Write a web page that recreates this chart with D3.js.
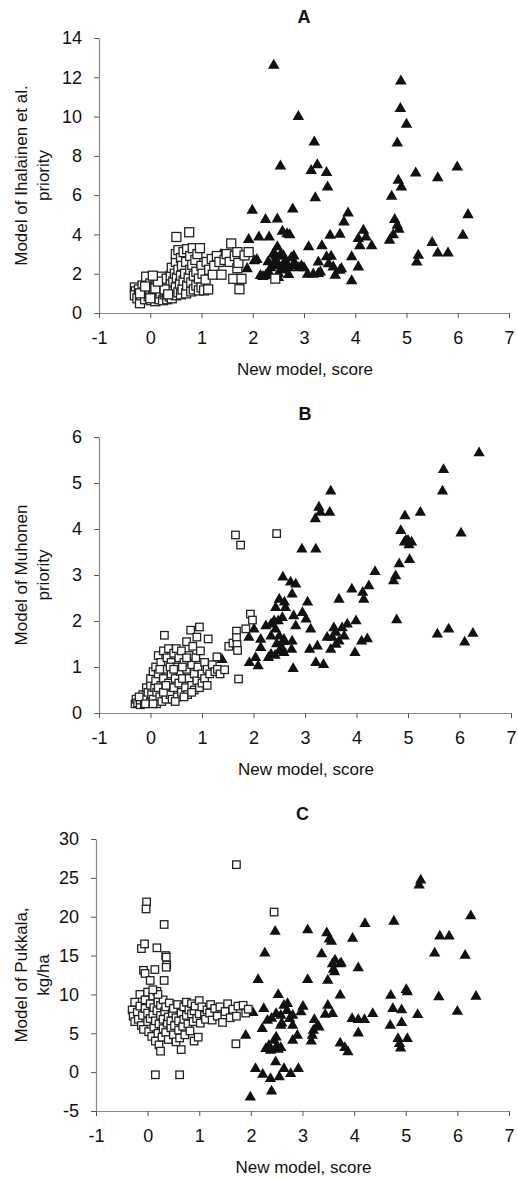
<!DOCTYPE html>
<html><head><meta charset="utf-8">
<script src="https://cdn.jsdelivr.net/npm/d3@7"></script>
<style>body{margin:0;background:#fff}text{font-family:"Liberation Sans",Arial,sans-serif}</style>
</head><body>
<svg id="chart" width="518" height="1180"></svg>
<script>
const xTicks=[-1,0,1,2,3,4,5,6,7];
const aYTicks=[0,2,4,6,8,10,12,14];
const bYTicks=[0,1,2,3,4,5,6];
const cYTicks=[-5,0,5,10,15,20,25,30];
const xTitle="New model, score";
const aLabel=["Model of Ihalainen et al.","priority"];
const bLabel=["Model of Muhonen","priority"];
const cLabel=["Model of Pukkala,","kg/ha"];

const aTriangles=[[2.41,12.6],[4.89,11.8],[2.89,10.0],[4.88,10.4],[5.0,9.6],[4.82,8.65],[3.2,8.7],
[2.54,7.47],[3.14,7.25],[3.26,7.54],[3.44,7.14],[3.46,6.41],[3.22,5.86],[1.99,5.22],[2.78,5.29],[2.25,4.75],[2.48,4.78],[3.86,5.08],[3.78,4.63],[1.92,3.73],[2.12,3.86],[2.32,3.86],[2.58,4.15],[2.67,4.03],[2.72,3.98],[2.48,3.36],[1.38,2.97],[1.89,2.25],[2.03,2.65],[2.08,2.72],
[2.2,1.85],[2.3,2.0],[2.25,1.9],[2.35,2.3],[2.4,2.5],[2.45,2.7],[2.5,2.4],[2.55,2.2],[2.5,2.0],[2.6,2.9],[2.65,2.6],[2.7,2.3],[2.75,2.8],[2.8,2.5],[2.85,2.4],[2.9,2.3],[2.95,2.4],[3.0,2.3],[2.4,3.0],[2.45,2.9],[2.55,3.0],[2.6,2.2],[2.3,2.6],[2.15,1.9],[2.7,1.95],[2.35,1.9],[2.5,1.8],[2.6,2.5],[2.8,2.9],
[3.07,1.97],[3.18,1.97],[3.28,2.0],[3.32,2.08],[3.28,2.59],[3.09,3.36],[3.35,3.41],[3.51,3.95],[3.7,4.0],[3.44,2.85],[3.53,2.88],[3.48,2.5],[3.57,2.34],[3.61,1.92],[3.7,2.17],[3.73,2.25],[3.93,2.85],[3.93,1.63],[4.06,2.34],[4.06,3.78],[4.16,4.2],[4.09,3.41],[4.21,3.86],[4.32,3.41],[4.67,3.69],[4.74,3.98],[4.71,5.93],[4.77,4.75],[4.82,4.46],[4.85,4.25],[4.84,6.75],[4.9,6.41],[5.18,7.12],[5.2,2.59],[5.23,2.93],[5.5,3.58],[5.61,6.88],[5.61,3.05],[5.81,3.05],[5.99,7.42],[6.1,3.95],[6.2,5.0]];

const aSquares=[[-0.3,1.3],[-0.28,1.1],[-0.3,0.9],[-0.25,0.75],[-0.22,1.2],[-0.2,0.5],[-0.18,0.9],[-0.15,1.4],[-0.12,1.05],[-0.1,0.7],[-0.08,1.85],[-0.05,1.2],[-0.03,0.85],[0,1.5],[0,1.0],[0.02,0.65],[0.05,1.3],[0.05,0.8],[0.08,1.1],[0.1,1.7],[0.1,0.6],[0.12,1.4],[0.15,0.9],[0.15,1.2],[0.18,0.7],[0.2,1.55],[0.2,1.0],[0.22,1.85],[0.25,0.65],[0.25,1.3],[0.28,0.95],[0.3,1.05],[0.3,1.5],[0.32,1.75],[0.33,0.7],[0.35,1.2],[0.38,0.85],[0.4,1.9],[0.4,1.45],[0.42,2.3],[0.42,0.75],[0.45,1.1],[0.45,1.6],[0.48,2.0],[0.5,0.9],[0.5,1.3],[0.5,2.6],[0.5,3.0],[0.51,3.87],[0.52,1.8],[0.55,1.05],[0.55,2.2],[0.55,3.2],[0.58,1.5],[0.6,0.95],[0.6,2.8],[0.6,1.9],[0.62,2.4],[0.63,1.2],[0.65,3.1],[0.65,1.65],[0.68,2.0],[0.7,1.0],[0.7,2.6],[0.72,1.4],[0.72,3.25],[0.75,1.8],[0.76,4.11],[0.78,2.2],[0.78,2.9],[0.8,1.1],[0.8,1.55],[0.82,2.45],[0.83,3.3],[0.85,1.2],[0.85,1.9],[0.88,2.7],[0.9,1.4],[0.9,2.1],[0.92,3.0],[0.95,1.15],[0.95,1.75],[0.97,3.3],[1.0,2.4],[1.0,1.3],[1.02,2.0],[1.05,1.15],[1.08,1.7],[1.1,2.6],[1.13,1.2],[1.15,2.2],[1.2,2.75],[1.22,1.95],[1.25,2.4],[1.3,2.9],[1.35,2.6],[1.39,1.95],[1.45,2.7],[1.49,3.0],[1.55,2.6],[1.58,3.54],[1.62,1.74],[1.65,2.9],[1.7,3.1],[1.7,2.28],[1.72,2.55],[1.74,1.21],[1.78,1.74],[1.84,2.93],[1.92,3.1],[2.44,1.75],
[-0.2,1.0],[0,0.75],[0.1,1.25],[0.28,1.2],[0.35,0.95],[0.15,1.6],[-0.1,1.35],[0.05,1.9]];

const bTriangles=[[6.38,5.65],[5.69,5.29],[5.67,4.82],[3.5,4.82],[3.27,4.47],[3.3,4.36],[3.48,4.36],[3.2,4.22],[4.94,4.28],[5.24,4.36],[4.86,3.96],[6.03,3.91],[4.96,3.75],
[2.94,3.56],[3.21,3.56],[4.93,3.71],[5.0,3.75],[5.07,3.71],[5.02,3.65],[5.03,3.33],[4.83,3.24],[4.76,2.98],[4.72,2.87],[4.36,3.07],[4.24,2.76],[4.12,2.62],[4.14,2.47],[3.91,2.69],[3.66,2.47],[2.57,2.95],[2.72,2.84],[2.82,2.8],[2.75,2.58],[3.05,2.41],[2.95,2.18],[3.02,2.04],[2.5,2.47],[2.43,2.29],[2.6,2.41],[2.62,2.29],[2.56,2.07],[2.48,2.0],[2.78,2.11],[2.82,1.89],[3.99,2.0],[3.82,1.93],[3.72,1.85],[3.56,1.85],[3.6,1.75],[3.76,1.67],[3.53,1.64],[3.43,1.64],[3.66,1.56],[3.6,1.49],[3.5,1.38],[4.1,1.56],[4.21,1.61],[3.97,1.31],[3.11,1.82],[3.24,1.45],[3.09,1.38],[3.21,1.09],[3.36,1.05],[2.75,1.56],[2.74,1.38],[2.77,0.96],[2.24,1.89],[2.34,1.93],[2.4,2.0],[2.43,1.82],[2.5,1.67],[2.59,1.6],[2.45,1.5],[2.55,1.42],[2.5,1.35],[2.59,1.31],[2.34,1.27],[2.29,1.2],[2.42,1.25],[1.91,1.64],[2.01,1.82],[2.14,1.6],[2.14,1.42],[2.04,1.2],[1.92,1.09],[2.09,1.02],[1.39,1.16],[2.34,1.67],[2.6,1.55],[4.78,2.02],[5.57,1.71],[5.79,1.82],[6.1,1.54],[6.26,1.73]];

const bSquares=[[-0.3,0.2],[-0.28,0.3],[-0.25,0.22],[-0.2,0.18],[-0.2,0.28],[-0.15,0.4],[-0.12,0.2],[-0.1,0.3],[-0.08,0.55],[-0.05,0.45],[0,0.25],[0,0.6],[0,0.75],[0.02,0.4],[0.05,0.9],[0.05,0.3],[0.08,0.55],[0.1,1.0],[0.1,0.7],[0.12,0.2],[0.12,0.45],[0.15,0.85],[0.15,1.25],[0.18,0.35],[0.2,0.6],[0.2,1.1],[0.22,0.25],[0.25,0.75],[0.25,1.35],[0.27,1.69],[0.28,0.5],[0.3,0.95],[0.3,0.3],[0.32,1.2],[0.35,0.65],[0.35,1.4],[0.38,0.4],[0.4,0.85],[0.4,1.1],[0.42,0.3],[0.45,1.3],[0.45,0.55],[0.48,0.75],[0.5,1.0],[0.5,1.4],[0.52,0.35],[0.55,0.65],[0.55,1.2],[0.58,0.9],[0.6,0.45],[0.6,1.35],[0.62,0.75],[0.65,1.1],[0.68,0.55],[0.7,0.95],[0.7,1.55],[0.72,0.4],[0.75,0.75],[0.75,1.25],[0.78,1.8],[0.8,0.6],[0.8,1.05],[0.82,1.45],[0.85,0.5],[0.85,0.85],[0.88,1.2],[0.9,1.65],[0.9,0.7],[0.92,1.0],[0.95,1.87],[0.95,0.55],[0.97,1.35],[1.0,0.85],[1.0,0.65],[1.05,1.1],[1.05,0.75],[1.1,0.95],[1.1,0.6],[1.12,1.61],[1.15,0.85],[1.2,1.05],[1.25,0.9],[1.29,1.22],[1.3,0.95],[1.35,0.85],[1.44,0.94],[1.52,1.45],[1.6,1.52],[1.67,1.78],[1.67,1.64],[1.68,1.49],[1.69,1.36],[1.71,0.74],[1.85,1.83],[1.94,2.15],[1.98,2.02],[1.65,3.87],[1.75,3.65],[2.45,3.9],
[-0.22,0.35],[-0.1,0.2],[0.05,0.2],[0.15,0.55],[0.25,0.45],[0.38,1.0],[0.48,0.25],[0.65,0.35],[0.62,1.0],[0.45,0.95],[0.3,0.6],[0.18,0.95],[0.7,1.2],[0.8,0.45]];

const cTriangles=[[5.29,24.7],[5.26,24.05],[6.26,20.1],[4.77,19.4],[4.21,19.1],[2.47,18.1],[3.1,18.3],[3.47,17.9],[3.52,17.1],[3.56,16.8],[3.97,17.2],[5.66,17.5],[5.84,17.5],[2.27,15.3],[3.37,15.2],[5.56,15.3],[6.15,15.0],[3.63,14.4],[3.75,14.0],[4.08,13.4],[3.6,13.2],
[3.58,13.9],[3.73,13.9],[3.62,12.9],[2.14,11.9],[3.1,11.9],[3.49,11.8],[3.73,9.9],[2.53,9.96],[4.71,9.87],[5.01,10.6],[5.03,10.3],[5.64,9.66],[6.36,9.74],[6.0,7.81],[5.23,7.38],[4.75,8.15],[4.92,8.0],[4.36,7.5],[4.2,6.74],[4.08,6.74],[3.96,6.87],[4.08,5.02],[4.7,6.0],[4.92,6.35],[4.85,4.29],[5.03,4.29],[4.88,3.65],[4.9,3.09],[3.73,3.73],[3.82,3.13],[3.88,2.58],[3.49,8.58],[3.58,7.51],[3.44,7.42],[3.23,6.74],[3.29,6.0],[3.21,5.36],[3.19,4.72],[3.17,3.99],[3.32,5.79],[3.01,8.45],[2.97,7.73],[2.9,4.72],[2.81,4.08],[2.81,6.0],[2.75,6.87],[2.81,7.3],[2.71,8.8],[2.64,8.58],[2.58,7.3],[2.58,6.0],[2.49,7.51],[2.32,6.65],[2.25,8.15],[2.22,5.58],[1.9,4.72],[2.04,7.64],[2.49,4.5],[2.45,4.08],[2.35,3.43],[2.29,3.0],[2.49,3.22],[2.58,3.13],[2.38,2.79],[2.53,2.9],[2.48,1.29],[2.09,0.43],[2.64,0.43],[2.92,0.43],[2.23,-0.3],[2.38,-0.86],[2.55,-0.64],[2.77,-0.21],[2.4,-2.45],[1.99,-3.22],[2.6,6.3],[2.7,7.9],[2.4,6.9]];

const cSquares=[[-0.3,8.0],[-0.28,7.2],[-0.25,6.5],[-0.25,9.0],[-0.2,7.7],[-0.18,6.8],[-0.15,8.5],[-0.15,10.0],[-0.12,6.0],[-0.1,7.3],[-0.08,5.5],[-0.05,8.2],[-0.05,9.3],[0,6.5],[0,7.6],[0,10.3],[0.02,5.2],[0.05,8.8],[0.05,6.9],[0.08,4.6],[0.1,7.5],[0.1,9.8],[0.12,5.8],[0.12,8.3],[0.15,4.0],[0.15,6.6],[0.18,10.4],[0.18,7.9],[0.2,5.0],[0.2,9.0],[0.22,3.5],[0.22,6.2],[0.25,2.7],[0.25,7.3],[0.25,8.6],[0.28,4.5],[0.3,5.6],[0.3,9.3],[0.3,6.8],[0.33,7.8],[0.35,5.1],[0.35,8.4],[0.38,6.3],[0.4,4.2],[0.4,7.1],[0.42,8.9],[0.45,5.7],[0.45,6.6],[0.48,7.6],[0.5,4.8],[0.5,8.2],[0.52,6.0],[0.55,3.9],[0.55,7.0],[0.58,8.7],[0.6,5.4],[0.6,6.6],[0.62,4.4],[0.65,2.9],[0.65,7.6],[0.68,5.9],[0.7,8.4],[0.7,6.8],[0.72,4.8],[0.75,7.3],[0.75,9.0],[0.78,6.2],[0.8,8.0],[0.82,5.3],[0.85,7.5],[0.85,8.8],[0.88,6.5],[0.9,4.0],[0.9,7.9],[0.92,8.5],[0.95,6.9],[0.98,4.5],[1.0,9.2],[1.0,7.5],[1.02,6.3],[1.05,8.4],[1.1,7.3],[1.12,6.8],[1.15,8.0],[1.2,7.6],[1.22,8.7],[1.25,6.7],[1.3,8.2],[1.35,7.2],[1.4,8.4],[1.45,6.4],[1.5,7.8],[1.55,8.8],[1.6,7.0],[1.65,8.1],[1.72,7.2],[1.75,8.5],[1.85,8.6],[1.9,7.6],[1.95,8.1],
[-0.08,13.1],[-0.05,12.7],[0.14,13.2],[0.05,11.8],[0.32,11.8],[0.37,13.8],[0.36,13.5],[0.35,15.0],[0.36,14.8],[0.18,16.0],[-0.12,15.9],[-0.06,16.5],[0.32,19.0],[-0.02,21.9],[-0.03,21.0],[1.72,26.7],[2.45,20.6],[0.15,-0.34],[0.62,-0.34],[1.71,3.65],[0.2,10.0],[0.1,10.6]];

const svg=d3.select("#chart");
const font='"Liberation Sans",Arial,sans-serif';

function drawPanel(cfg){
  const x=d3.scaleLinear().domain([-1,7]).range([cfg.left,cfg.right]);
  const y=d3.scaleLinear().domain(cfg.yDomain).range([cfg.bottom,cfg.top]);
  const g=svg.append("g");
  const fmt=d=>String(d);
  const yAxis=d3.axisLeft(y).tickValues(cfg.yTicks).tickFormat(fmt).tickSize(5).tickPadding(12).tickSizeOuter(0);
  const xAxis=d3.axisBottom(x).tickValues(xTicks).tickFormat(fmt).tickSize(5).tickPadding(13).tickSizeOuter(0);
  const ya=g.append("g").attr("transform",`translate(${cfg.left},0)`).call(yAxis);
  const xa=g.append("g").attr("transform",`translate(0,${cfg.bottom})`).call(xAxis);
  [ya,xa].forEach(a=>{
    a.select(".domain").attr("stroke","#888").attr("stroke-width",1.2);
    a.selectAll(".tick line").attr("stroke","#555").attr("stroke-width",1);
    a.selectAll(".tick text").attr("font-family",font).attr("font-size",18).attr("fill","#111");
  });
  const tri=d3.symbol().type(d3.symbolTriangle).size(cfg.triSize);
  g.append("g").selectAll("path").data(cfg.triangles).join("path")
    .attr("d",tri).attr("transform",d=>`translate(${x(d[0])},${y(d[1])})`).attr("fill","#111");
  const s=cfg.sqSize;
  g.append("g").selectAll("rect").data(cfg.squares).join("rect")
    .attr("x",d=>x(d[0])-s/2).attr("y",d=>y(d[1])-s/2).attr("width",s).attr("height",s)
    .attr("fill","#fff").attr("stroke","#222").attr("stroke-width",1.3);
  const cx=(cfg.left+cfg.right)/2;
  g.append("text").attr("x",cx).attr("y",cfg.titleY).attr("text-anchor","middle")
    .attr("font-family",font).attr("font-weight","bold").attr("font-size",18).attr("fill","#111").text(cfg.title);
  g.append("text").attr("x",cx+1).attr("y",cfg.bottom+62).attr("text-anchor","middle")
    .attr("font-family",font).attr("font-size",17).attr("fill","#111").text(xTitle);
  const cy=(cfg.top+cfg.bottom)/2;
  cfg.yLabel.forEach((t,i)=>{
    g.append("text").attr("transform",`translate(${27+i*22},${cy}) rotate(-90)`).attr("text-anchor","middle")
      .attr("font-family",font).attr("font-size",17).attr("fill","#111").text(t);
  });
}

drawPanel({title:"A",titleY:23,left:99,right:509,top:38,bottom:313,yDomain:[0,14],yTicks:aYTicks,yLabel:aLabel,triangles:aTriangles,squares:aSquares,triSize:58,sqSize:9});
drawPanel({title:"B",titleY:420,left:99,right:511,top:437,bottom:713,yDomain:[0,6],yTicks:bYTicks,yLabel:bLabel,triangles:bTriangles,squares:bSquares,triSize:55,sqSize:7.5});
drawPanel({title:"C",titleY:820,left:96,right:509,top:839,bottom:1111,yDomain:[-5,30],yTicks:cYTicks,yLabel:cLabel,triangles:cTriangles,squares:cSquares,triSize:55,sqSize:7.5});
</script>
</body></html>
